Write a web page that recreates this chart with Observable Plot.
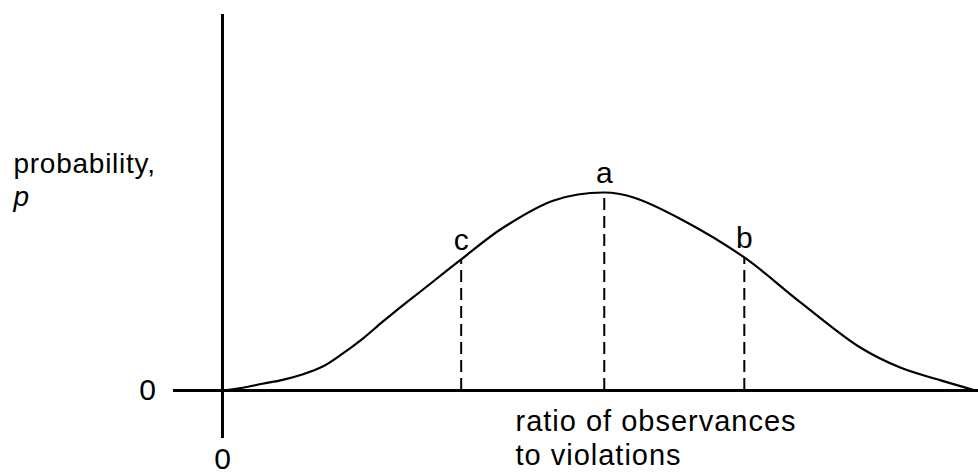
<!DOCTYPE html>
<html>
<head>
<meta charset="utf-8">
<script src="https://cdn.jsdelivr.net/npm/d3@7"></script>
<script src="https://cdn.jsdelivr.net/npm/@observablehq/plot@0.6"></script>
<style>
  html, body { margin: 0; padding: 0; background: #fff; }
  #chart svg { display: block; }
</style>
</head>
<body>
<div id="chart"></div>
<script>
// Curve: ratio of observances to violations (x) vs probability p (y), arbitrary units
const curveX = [0, 0.27, 0.53, 0.80, 1.06, 1.33, 1.59, 1.86, 2.12, 2.39, 2.63, 3.17, 3.73, 4.40, 5.07, 5.46, 6.12, 6.93, 7.68, 8.47, 9.00, 9.54, 10.0];
const curveP = [0, 0.014, 0.034, 0.054, 0.081, 0.121, 0.185, 0.261, 0.345, 0.429, 0.500, 0.662, 0.823, 0.960, 1.0, 0.975, 0.859, 0.672, 0.444, 0.217, 0.116, 0.051, 0];

// Marked points on the curve
const markLabels = ["c", "a", "b"];
const markX = [3.17, 5.07, 6.93];
const markP = [0.662, 1.0, 0.672];

// Axis texts
const yLabel = "probability,";
const yVar = "p";
const xLabelLines = ["ratio of observances", "to violations"];
const zeroLabel = "0";

const curve = curveX.map((x, i) => ({x, p: curveP[i]}));
const marks = markLabels.map((label, i) => ({label, x: markX[i], p: markP[i]}));

const font = "'Liberation Sans', Arial, Helvetica, sans-serif";

const chart = Plot.plot({
  width: 978,
  height: 476,
  marginTop: 0, marginRight: 0, marginBottom: 0, marginLeft: 0,
  x: {domain: [-2.948, 10.04], axis: null},
  y: {domain: [-0.4343, 1.9697], axis: null},
  style: {fontFamily: font, fontSize: "30px", background: "#fff", color: "#000"},
  marks: [
    // axes
    Plot.ruleY([0], {x1: -0.651, x2: 10.04, stroke: "#000", strokeWidth: 3}),
    Plot.ruleX([0], {y1: -0.242, y2: 1.899, stroke: "#000", strokeWidth: 3}),
    // dashed drop lines
    Plot.ruleX(marks, {x: "x", y1: 0, y2: "p", stroke: "#000", strokeWidth: 2, strokeDasharray: "12,6"}),
    // curve
    Plot.line(curve, {x: "x", y: "p", curve: "catmull-rom", stroke: "#000", strokeWidth: 2.2}),
    // point labels
    Plot.text(marks, {x: "x", y: "p", text: "label", dy: -19, fontSize: 30, fill: "#000"}),
    // zero labels
    Plot.text([zeroLabel], {x: -0.996, y: 0, text: d => d, fontSize: 30, fill: "#000"}),
    Plot.text([zeroLabel], {x: 0, y: -0.348, text: d => d, fontSize: 30, fill: "#000"}),
    // y label (two lines in one text)
    Plot.text([yLabel + "\n" + yVar], {x: -2.776, y: 0.9318, text: d => d, textAnchor: "start", lineAnchor: "bottom", lineHeight: 1.1786, fontSize: 28, fill: "#000"}),
    // x label (two lines in one text)
    Plot.text([xLabelLines.join("\n")], {x: 3.891, y: -0.3737, text: d => d, textAnchor: "start", lineAnchor: "bottom", lineHeight: 1.1724, fontSize: 29, fill: "#000"})
  ]
});
const svg = d3.select(chart);
// italicise the variable name p
svg.selectAll("tspan").filter(function () {
  return this.textContent === yVar && this.parentNode.textContent.startsWith(yLabel);
}).style("font-style", "italic");
svg.selectAll("text").filter(function () {
  return this.textContent.startsWith(yLabel);
}).style("letter-spacing", "0.75px");
svg.selectAll("text").filter(function () {
  return this.textContent.startsWith(xLabelLines[0]);
}).style("letter-spacing", "1px");
document.getElementById("chart").appendChild(chart);
</script>
</body>
</html>
